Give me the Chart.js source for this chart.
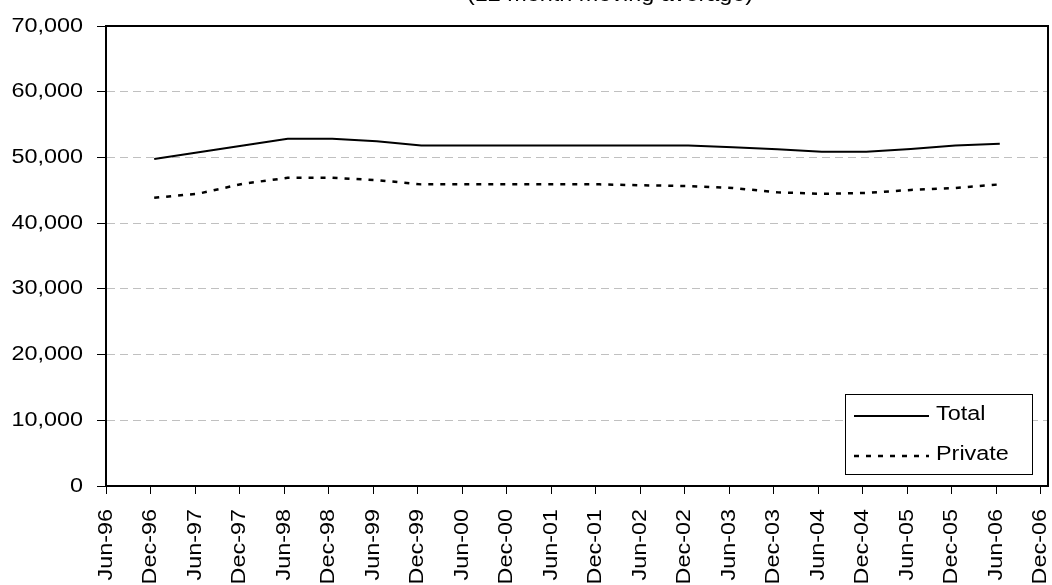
<!DOCTYPE html>
<html>
<head>
<meta charset="utf-8">
<script src="https://cdn.jsdelivr.net/npm/chart.js@4/dist/chart.umd.min.js"></script>
<style>
  html, body { margin: 0; padding: 0; background: #ffffff; }
  #wrap { width: 1052px; height: 585px; position: relative; overflow: hidden; }
  canvas { display: block; }
</style>
</head>
<body>
<div id="wrap"><canvas id="chart" width="1052" height="585"></canvas></div>
<script>
// Half-yearly axis labels (one every six months)
const tickLabels = ['Jun-96', 'Dec-96', 'Jun-97', 'Dec-97', 'Jun-98', 'Dec-98', 'Jun-99', 'Dec-99',
  'Jun-00', 'Dec-00', 'Jun-01', 'Dec-01', 'Jun-02', 'Dec-02', 'Jun-03', 'Dec-03',
  'Jun-04', 'Dec-04', 'Jun-05', 'Dec-05', 'Jun-06', 'Dec-06'];

// Reporting periods of the series
const periods = ['Dec-96', 'Jun-97', 'Dec-97', 'Jun-98', 'Dec-98', 'Jun-99', 'Dec-99', 'Jun-00',
  'Dec-00', 'Jun-01', 'Dec-01', 'Jun-02', 'Dec-02', 'Jun-03', 'Dec-03', 'Jun-04',
  'Dec-04', 'Jun-05', 'Dec-05', 'Jun-06'];

const totalValues = [49750, 50800, 51800, 52850, 52850, 52450, 51800, 51800, 51800, 51800,
  51800, 51800, 51800, 51550, 51250, 50850, 50850, 51300, 51800, 52100];

const privateValues = [43850, 44500, 46000, 46900, 46900, 46550, 45900, 45900, 45900, 45900,
  45900, 45750, 45650, 45350, 44700, 44450, 44600, 45050, 45350, 45900];

const yTicks = [0, 10000, 20000, 30000, 40000, 50000, 60000, 70000];

const titleText = '(12 month moving average)';

const FONT = '"Liberation Sans", Arial, Helvetica, sans-serif';
const TEXT_WIDEN = 1.17;

// x is measured in months from June 1996; each period is plotted mid-month
const monthOf = label => tickLabels.indexOf(label) * 6 + 0.5;
const toPoints = values => periods.map((p, i) => ({ x: monthOf(p), y: values[i] }));

// Draw all text slightly widened along its own baseline
const wideTextPlugin = {
  id: 'wideText',
  beforeDraw(chart) {
    const ctx = chart.ctx;
    if (ctx.__wide) return;
    const fill = ctx.fillText.bind(ctx);
    ctx.fillText = function (text, x, y) {
      this.save();
      this.translate(x, y);
      this.scale(TEXT_WIDEN, 1);
      fill(text, 0, 0);
      this.restore();
    };
    ctx.__wide = true;
  }
};

// Title sits partly above the top edge
const titlePlugin = {
  id: 'topTitle',
  afterDraw(chart) {
    const ctx = chart.ctx;
    ctx.save();
    ctx.font = '20px ' + FONT;
    ctx.fillStyle = '#000';
    ctx.textAlign = 'center';
    ctx.textBaseline = 'alphabetic';
    ctx.fillText(titleText, 610, 1);
    ctx.restore();
  }
};

// Plot frame plus a boxed legend in the lower right of the plot
const frameLegendPlugin = {
  id: 'frameLegend',
  afterDatasetsDraw(chart) {
    const ctx = chart.ctx;
    const a = chart.chartArea;
    ctx.save();
    ctx.strokeStyle = '#000';
    ctx.lineWidth = 2;
    ctx.strokeRect(a.left, a.top, a.right - a.left, a.bottom - a.top);

    const bw = 187, bh = 80;
    const bx = Math.round(a.right - 16 - bw);
    const by = Math.round(a.bottom - 12 - bh);
    ctx.fillStyle = '#fff';
    ctx.fillRect(bx, by, bw, bh);
    ctx.lineWidth = 1;
    ctx.strokeRect(bx + 0.5, by + 0.5, bw, bh);

    ctx.font = '20px ' + FONT;
    ctx.textAlign = 'left';
    ctx.textBaseline = 'middle';
    chart.data.datasets.forEach((ds, i) => {
      const cy = by + 22 + i * 40;
      ctx.setLineDash(ds.borderDash || []);
      ctx.lineWidth = ds.borderWidth;
      ctx.strokeStyle = ds.borderColor;
      ctx.beginPath();
      ctx.moveTo(bx + 9, cy);
      ctx.lineTo(bx + 84, cy);
      ctx.stroke();
      ctx.setLineDash([]);
      ctx.fillStyle = '#000';
      ctx.fillText(ds.label, bx + 91, cy - 2);
    });
    ctx.restore();
  }
};

new Chart(document.getElementById('chart'), {
  type: 'line',
  data: {
    datasets: [
      {
        label: 'Total',
        data: toPoints(totalValues),
        borderColor: '#000',
        borderWidth: 2,
        pointRadius: 0,
        tension: 0,
        fill: false
      },
      {
        label: 'Private',
        data: toPoints(privateValues),
        borderColor: '#000',
        borderWidth: 2.5,
        borderDash: [5, 7],
        pointRadius: 0,
        tension: 0,
        fill: false
      }
    ]
  },
  options: {
    responsive: false,
    devicePixelRatio: 1,
    animation: false,
    layout: { padding: { top: 22, right: 4, left: 0, bottom: 0 } },
    plugins: {
      legend: { display: false },
      title: { display: false },
      tooltip: { enabled: false }
    },
    scales: {
      x: {
        type: 'linear',
        min: 0,
        max: 127,
        afterBuildTicks(scale) {
          scale.ticks = tickLabels.map((_, i) => ({ value: i * 6 }));
        },
        ticks: {
          autoSkip: false,
          minRotation: 90,
          maxRotation: 90,
          padding: 15,
          color: '#000',
          font: { family: FONT, size: 20 },
          callback: (v, i) => tickLabels[i]
        },
        grid: {
          drawOnChartArea: false,
          tickLength: 8,
          tickColor: '#000',
          tickWidth: 1
        },
        border: { display: true, color: '#000', width: 2 },
        afterFit(scale) {
          scale.height = 99;
          scale.paddingLeft = 0;
          scale.paddingRight = 0;
        }
      },
      y: {
        min: 0,
        max: 70000,
        afterBuildTicks(scale) {
          scale.ticks = yTicks.map(v => ({ value: v }));
        },
        ticks: {
          padding: 14,
          color: '#000',
          font: { family: FONT, size: 20 },
          callback: v => v.toLocaleString('en-US')
        },
        grid: {
          color: '#c0c0c0',
          lineWidth: 1,
          tickLength: 9,
          tickColor: '#000',
          tickWidth: 1,
          tickBorderDash: []
        },
        border: { display: true, color: '#000', width: 2, dash: [8, 5] },
        afterFit(scale) {
          scale.width = 106;
        }
      }
    }
  },
  plugins: [wideTextPlugin, titlePlugin, frameLegendPlugin]
});
</script>
</body>
</html>
